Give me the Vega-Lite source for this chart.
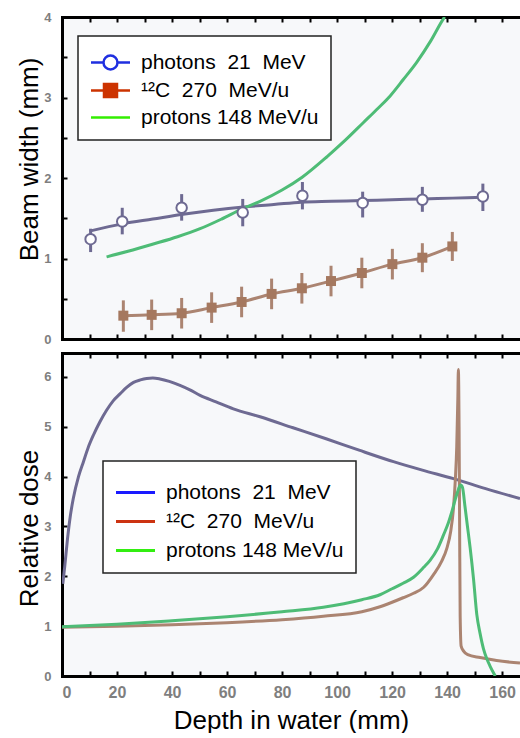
{
  "$schema": "https://vega.github.io/schema/vega-lite/v6.json",
  "background": "white",
  "padding": {"left": 16, "top": 11, "right": 0, "bottom": 0},
  "spacing": 6,
  "config": {
    "view": {"stroke": null, "fill": "#f7f8fa"},
    "font": "Liberation Sans",
    "axis": {
      "domainColor": "black", "domainWidth": 3, "domainCap": "square",
      "tickColor": "black", "tickWidth": 2, "tickSize": -5,
      "grid": false,
      "labelColor": "#7f7f7f", "labelFontWeight": "bold", "labelFont": "Liberation Sans",
      "titleFontWeight": "normal", "titleColor": "black", "titleFont": "Liberation Sans"
    }
  },
  "datasets": {
    "wfit": [
      {"series": "photons", "depth": 10, "width": 1.34},
      {"series": "photons", "depth": 22, "width": 1.43},
      {"series": "photons", "depth": 33, "width": 1.49},
      {"series": "photons", "depth": 44, "width": 1.55},
      {"series": "photons", "depth": 55, "width": 1.6},
      {"series": "photons", "depth": 66, "width": 1.64},
      {"series": "photons", "depth": 77, "width": 1.67},
      {"series": "photons", "depth": 87, "width": 1.7},
      {"series": "photons", "depth": 98, "width": 1.71},
      {"series": "photons", "depth": 109, "width": 1.72},
      {"series": "photons", "depth": 120, "width": 1.73},
      {"series": "photons", "depth": 131, "width": 1.74},
      {"series": "photons", "depth": 142, "width": 1.75},
      {"series": "photons", "depth": 153, "width": 1.76},
      {"series": "carbon", "depth": 22.3, "width": 0.29},
      {"series": "carbon", "depth": 32.6, "width": 0.30},
      {"series": "carbon", "depth": 43.5, "width": 0.32},
      {"series": "carbon", "depth": 54.4, "width": 0.39},
      {"series": "carbon", "depth": 65.3, "width": 0.46},
      {"series": "carbon", "depth": 76.2, "width": 0.56},
      {"series": "carbon", "depth": 87.2, "width": 0.63},
      {"series": "carbon", "depth": 97.8, "width": 0.72},
      {"series": "carbon", "depth": 109, "width": 0.82},
      {"series": "carbon", "depth": 120.1, "width": 0.93},
      {"series": "carbon", "depth": 131, "width": 1.01},
      {"series": "carbon", "depth": 141.9, "width": 1.15},
      {"series": "protons", "depth": 16.2, "width": 1.02},
      {"series": "protons", "depth": 24, "width": 1.09},
      {"series": "protons", "depth": 33.2, "width": 1.18},
      {"series": "protons", "depth": 42, "width": 1.27},
      {"series": "protons", "depth": 50.2, "width": 1.37},
      {"series": "protons", "depth": 58, "width": 1.49},
      {"series": "protons", "depth": 65.7, "width": 1.62},
      {"series": "protons", "depth": 72, "width": 1.71},
      {"series": "protons", "depth": 80, "width": 1.85},
      {"series": "protons", "depth": 87.3, "width": 2.01},
      {"series": "protons", "depth": 96.5, "width": 2.27},
      {"series": "protons", "depth": 103, "width": 2.47},
      {"series": "protons", "depth": 109.6, "width": 2.69},
      {"series": "protons", "depth": 115, "width": 2.87},
      {"series": "protons", "depth": 119.3, "width": 3.02},
      {"series": "protons", "depth": 124, "width": 3.22},
      {"series": "protons", "depth": 129, "width": 3.44},
      {"series": "protons", "depth": 134, "width": 3.70},
      {"series": "protons", "depth": 138.7, "width": 3.98},
      {"series": "protons", "depth": 139.1, "width": 4.0}
    ],
    "wpts": [
      {"series": "photons", "depth": 10.4, "width": 1.24, "lo": 1.08, "hi": 1.37},
      {"series": "photons", "depth": 21.9, "width": 1.46, "lo": 1.30, "hi": 1.63},
      {"series": "photons", "depth": 43.5, "width": 1.63, "lo": 1.47, "hi": 1.80},
      {"series": "photons", "depth": 65.7, "width": 1.57, "lo": 1.40, "hi": 1.74},
      {"series": "photons", "depth": 87.4, "width": 1.78, "lo": 1.61, "hi": 1.95},
      {"series": "photons", "depth": 109.3, "width": 1.69, "lo": 1.51, "hi": 1.83},
      {"series": "photons", "depth": 131, "width": 1.73, "lo": 1.58, "hi": 1.89},
      {"series": "photons", "depth": 153, "width": 1.77, "lo": 1.59, "hi": 1.93},
      {"series": "carbon", "depth": 22.3, "width": 0.29, "lo": 0.09, "hi": 0.48},
      {"series": "carbon", "depth": 32.6, "width": 0.30, "lo": 0.11, "hi": 0.49},
      {"series": "carbon", "depth": 43.5, "width": 0.32, "lo": 0.13, "hi": 0.51},
      {"series": "carbon", "depth": 54.4, "width": 0.39, "lo": 0.20, "hi": 0.58},
      {"series": "carbon", "depth": 65.3, "width": 0.46, "lo": 0.27, "hi": 0.65},
      {"series": "carbon", "depth": 76.2, "width": 0.56, "lo": 0.37, "hi": 0.75},
      {"series": "carbon", "depth": 87.2, "width": 0.63, "lo": 0.44, "hi": 0.82},
      {"series": "carbon", "depth": 97.8, "width": 0.72, "lo": 0.53, "hi": 0.91},
      {"series": "carbon", "depth": 109, "width": 0.82, "lo": 0.63, "hi": 1.01},
      {"series": "carbon", "depth": 120.1, "width": 0.93, "lo": 0.74, "hi": 1.12},
      {"series": "carbon", "depth": 131, "width": 1.01, "lo": 0.83, "hi": 1.19},
      {"series": "carbon", "depth": 141.9, "width": 1.15, "lo": 0.97, "hi": 1.33}
    ],
    "dose": [
      {"series": "photons", "depth": 0.3, "dose": 1.85},
      {"series": "photons", "depth": 1, "dose": 2.2},
      {"series": "photons", "depth": 2, "dose": 2.75},
      {"series": "photons", "depth": 3, "dose": 3.2},
      {"series": "photons", "depth": 4.1, "dose": 3.56},
      {"series": "photons", "depth": 6, "dose": 4.0},
      {"series": "photons", "depth": 7.8, "dose": 4.3},
      {"series": "photons", "depth": 9.5, "dose": 4.58},
      {"series": "photons", "depth": 11.4, "dose": 4.83},
      {"series": "photons", "depth": 13.8, "dose": 5.1},
      {"series": "photons", "depth": 16.2, "dose": 5.33},
      {"series": "photons", "depth": 18.6, "dose": 5.52},
      {"series": "photons", "depth": 21.1, "dose": 5.66},
      {"series": "photons", "depth": 23.5, "dose": 5.79},
      {"series": "photons", "depth": 26, "dose": 5.89},
      {"series": "photons", "depth": 28.5, "dose": 5.94},
      {"series": "photons", "depth": 30.8, "dose": 5.97},
      {"series": "photons", "depth": 33, "dose": 5.98},
      {"series": "photons", "depth": 35.6, "dose": 5.96},
      {"series": "photons", "depth": 39, "dose": 5.91},
      {"series": "photons", "depth": 42.9, "dose": 5.83},
      {"series": "photons", "depth": 46.5, "dose": 5.74},
      {"series": "photons", "depth": 50.2, "dose": 5.63},
      {"series": "photons", "depth": 56, "dose": 5.5},
      {"series": "photons", "depth": 62.3, "dose": 5.36},
      {"series": "photons", "depth": 72, "dose": 5.2},
      {"series": "photons", "depth": 84, "dose": 4.98},
      {"series": "photons", "depth": 96, "dose": 4.76},
      {"series": "photons", "depth": 108, "dose": 4.53},
      {"series": "photons", "depth": 120.5, "dose": 4.3},
      {"series": "photons", "depth": 131, "dose": 4.13},
      {"series": "photons", "depth": 142.3, "dose": 3.96},
      {"series": "photons", "depth": 154, "dose": 3.76},
      {"series": "photons", "depth": 166.5, "dose": 3.56},
      {"series": "carbon", "depth": 0, "dose": 0.98},
      {"series": "carbon", "depth": 20, "dose": 1.0},
      {"series": "carbon", "depth": 40, "dose": 1.03},
      {"series": "carbon", "depth": 60, "dose": 1.07},
      {"series": "carbon", "depth": 80, "dose": 1.13},
      {"series": "carbon", "depth": 95, "dose": 1.2},
      {"series": "carbon", "depth": 109, "dose": 1.29},
      {"series": "carbon", "depth": 115.6, "dose": 1.39},
      {"series": "carbon", "depth": 120, "dose": 1.48},
      {"series": "carbon", "depth": 124, "dose": 1.57},
      {"series": "carbon", "depth": 127.8, "dose": 1.66},
      {"series": "carbon", "depth": 131.5, "dose": 1.78},
      {"series": "carbon", "depth": 135, "dose": 2.03},
      {"series": "carbon", "depth": 138, "dose": 2.3},
      {"series": "carbon", "depth": 139.9, "dose": 2.56},
      {"series": "carbon", "depth": 141.3, "dose": 2.9},
      {"series": "carbon", "depth": 142.3, "dose": 3.36},
      {"series": "carbon", "depth": 143, "dose": 3.95},
      {"series": "carbon", "depth": 143.5, "dose": 4.6},
      {"series": "carbon", "depth": 143.9, "dose": 5.56},
      {"series": "carbon", "depth": 144.1, "dose": 6.15},
      {"series": "carbon", "depth": 144.35, "dose": 5.0},
      {"series": "carbon", "depth": 144.55, "dose": 3.0},
      {"series": "carbon", "depth": 144.75, "dose": 1.2},
      {"series": "carbon", "depth": 145.1, "dose": 0.6},
      {"series": "carbon", "depth": 146, "dose": 0.5},
      {"series": "carbon", "depth": 147.5, "dose": 0.43},
      {"series": "carbon", "depth": 152, "dose": 0.37},
      {"series": "carbon", "depth": 158, "dose": 0.31},
      {"series": "carbon", "depth": 166.5, "dose": 0.26},
      {"series": "protons", "depth": 0, "dose": 0.99},
      {"series": "protons", "depth": 20, "dose": 1.04},
      {"series": "protons", "depth": 40, "dose": 1.11},
      {"series": "protons", "depth": 60, "dose": 1.19},
      {"series": "protons", "depth": 80, "dose": 1.29},
      {"series": "protons", "depth": 95, "dose": 1.38},
      {"series": "protons", "depth": 109, "dose": 1.53},
      {"series": "protons", "depth": 115.6, "dose": 1.63},
      {"series": "protons", "depth": 120, "dose": 1.75},
      {"series": "protons", "depth": 124, "dose": 1.86},
      {"series": "protons", "depth": 127.8, "dose": 1.98},
      {"series": "protons", "depth": 131.5, "dose": 2.18},
      {"series": "protons", "depth": 133.8, "dose": 2.32},
      {"series": "protons", "depth": 136.5, "dose": 2.55},
      {"series": "protons", "depth": 138.7, "dose": 2.83},
      {"series": "protons", "depth": 140.5, "dose": 3.08},
      {"series": "protons", "depth": 141.7, "dose": 3.29},
      {"series": "protons", "depth": 143, "dose": 3.55},
      {"series": "protons", "depth": 143.8, "dose": 3.69},
      {"series": "protons", "depth": 144.5, "dose": 3.8},
      {"series": "protons", "depth": 145, "dose": 3.83},
      {"series": "protons", "depth": 145.6, "dose": 3.78},
      {"series": "protons", "depth": 146.5, "dose": 3.4},
      {"series": "protons", "depth": 147.4, "dose": 3.0},
      {"series": "protons", "depth": 148.4, "dose": 2.56},
      {"series": "protons", "depth": 149.6, "dose": 1.95},
      {"series": "protons", "depth": 150.8, "dose": 1.23},
      {"series": "protons", "depth": 152, "dose": 0.85},
      {"series": "protons", "depth": 153.2, "dose": 0.55},
      {"series": "protons", "depth": 154.4, "dose": 0.35},
      {"series": "protons", "depth": 155.6, "dose": 0.2},
      {"series": "protons", "depth": 157, "dose": 0.05},
      {"series": "protons", "depth": 157.5, "dose": 0}
    ]
  },
  "resolve": {"scale": {"color": "independent", "stroke": "independent"}, "legend": {"color": "independent"}},
  "vconcat": [
    {
      "width": 458,
      "height": 322,
      "resolve": {"axis": {"x": "independent"}},
      "layer": [
        {
          "data": {"name": "wfit"},
          "transform": [{"filter": "false"}],
          "mark": {"type": "line", "strokeWidth": 3},
          "encoding": {
            "x": {"field": "depth", "type": "quantitative", "axis": null},
            "y": {"field": "width", "type": "quantitative"},
            "color": {"field": "series", "type": "nominal",
                      "scale": {"domain": ["photons", "carbon", "protons"], "range": ["#1f2fe0", "#cc3300", "#33ee00"]},
                      "legend": {
                        "orient": "none", "legendX": 16, "legendY": 19,
                        "title": "\u00a0", "titleFontSize": 7, "titlePadding": -4,
                        "labelExpr": "datum.value == 'photons' ? 'photons\u00a0 21\u00a0 MeV' : datum.value == 'carbon' ? '\u00b9\u00b2C\u00a0 270\u00a0 MeV/u' : 'protons 148 MeV/u'",
                        "labelFontSize": 21, "labelColor": "black", "labelFont": "Liberation Sans", "labelLimit": 400,
                        "symbolSize": 400, "symbolStrokeWidth": 3, "symbolOffset": 9, "labelOffset": 19, "rowPadding": 4,
                        "padding": 12, "strokeColor": "#222222", "fillColor": "white",
                        "encode": {
                          "legend": {"update": {"strokeWidth": {"value": 1.5}}},
                          "symbols": {"update": {
                            "shape": {"signal": "datum.value == 'photons' ? 'M-1.95,0H-0.7M0.7,0H1.95M0.7,0A0.7,0.7,0,1,1,-0.7,0A0.7,0.7,0,1,1,0.7,0' : datum.value == 'carbon' ? 'M-1.95,0H1.95M-0.65,-0.65H0.65V0.65H-0.65Z' : 'M-1.95,0H1.95'"},
                            "fill": {"signal": "datum.value == 'photons' ? 'white' : datum.value == 'carbon' ? '#cc3300' : 'transparent'"},
                            "strokeWidth": {"value": 2.5},
                            "opacity": {"value": 1},
                            "fillOpacity": {"value": 1},
                            "strokeOpacity": {"value": 1}
                          }}
                        }
                      }}
          }
        },
        {
          "data": {"name": "wfit"},
          "mark": {"type": "line", "strokeWidth": 3, "interpolate": "monotone", "clip": true},
          "encoding": {
            "x": {"field": "depth", "type": "quantitative",
                  "scale": {"domain": [0, 166.5], "nice": false, "zero": false},
                  "axis": {"orient": "bottom", "values": [0,10,20,30,40,50,60,70,80,90,100,110,120,130,140,150,160], "labels": false, "title": null}},
            "y": {"field": "width", "type": "quantitative",
                  "scale": {"domain": [0, 4], "nice": false},
                  "axis": {"values": [0,0.5,1,1.5,2,2.5,3,3.5,4], "labelExpr": "datum.value % 1 == 0 ? format(datum.value, 'd') : ''",
                           "labelFontSize": 13, "labelPadding": 16,
                           "title": "Beam width (mm)", "titleFontSize": 26, "titleX": -33, "titleY": 142, "titleBaseline": "middle", "titleAngle": -90}},
            "stroke": {"field": "series", "type": "nominal",
                      "scale": {"domain": ["photons", "carbon", "protons"], "range": ["#6e6a92", "#ab8471", "#4ebc76"]},
                      "legend": null}
          }
        },
        {
          "data": {"name": "wpts"},
          "mark": {"type": "rule", "strokeWidth": 3},
          "encoding": {
            "x": {"field": "depth", "type": "quantitative",
                  "axis": {"orient": "top", "values": [0,10,20,30,40,50,60,70,80,90,100,110,120,130,140,150,160], "labels": false, "title": null}},
            "y": {"field": "lo", "type": "quantitative"},
            "y2": {"field": "hi"},
            "stroke": {"field": "series", "type": "nominal", "legend": null}
          }
        },
        {
          "data": {"name": "wpts"},
          "transform": [{"filter": "datum.series == 'photons'"}],
          "mark": {"type": "point", "shape": "circle", "filled": true, "fill": "white", "stroke": "#6e6a92", "strokeWidth": 2, "size": 110, "opacity": 1},
          "encoding": {
            "x": {"field": "depth", "type": "quantitative", "axis": null},
            "y": {"field": "width", "type": "quantitative"}
          }
        },
        {
          "data": {"name": "wpts"},
          "transform": [{"filter": "datum.series == 'carbon'"}],
          "mark": {"type": "point", "shape": "square", "filled": true, "color": "#a5785f", "size": 100, "opacity": 1},
          "encoding": {
            "x": {"field": "depth", "type": "quantitative", "axis": null},
            "y": {"field": "width", "type": "quantitative"}
          }
        }
      ]
    },
    {
      "width": 458,
      "height": 323,
      "resolve": {"axis": {"x": "independent"}},
      "layer": [
        {
          "data": {"name": "dose"},
          "transform": [{"filter": "false"}],
          "mark": {"type": "line", "strokeWidth": 3},
          "encoding": {
            "x": {"field": "depth", "type": "quantitative", "axis": null},
            "y": {"field": "dose", "type": "quantitative"},
            "color": {"field": "series", "type": "nominal",
                      "scale": {"domain": ["photons", "carbon", "protons"], "range": ["#1a1aff", "#cc3311", "#33ee11"]},
                      "legend": {
                        "orient": "none", "legendX": 41, "legendY": 108,
                        "title": "\u00a0", "titleFontSize": 8, "titlePadding": 0,
                        "labelExpr": "datum.value == 'photons' ? 'photons\u00a0 21\u00a0 MeV' : datum.value == 'carbon' ? '\u00b9\u00b2C\u00a0 270\u00a0 MeV/u' : 'protons 148 MeV/u'",
                        "labelFontSize": 21, "labelColor": "black", "labelFont": "Liberation Sans", "labelLimit": 400,
                        "symbolSize": 400, "symbolStrokeWidth": 3, "symbolOffset": 9, "labelOffset": 19, "rowPadding": 7,
                        "padding": 12, "strokeColor": "#222222", "fillColor": "white",
                        "encode": {
                          "legend": {"update": {"strokeWidth": {"value": 1.5}}},
                          "symbols": {"update": {
                            "shape": {"value": "M-1.95,0H1.95"},
                            "fill": {"value": "transparent"},
                            "strokeWidth": {"value": 3},
                            "opacity": {"value": 1},
                            "strokeOpacity": {"value": 1}
                          }}
                        }
                      }}
          }
        },
        {
          "data": {"name": "dose"},
          "transform": [{"filter": "datum.series != 'protons'"}],
          "mark": {"type": "line", "strokeWidth": 3, "interpolate": "monotone", "clip": true},
          "encoding": {
            "x": {"field": "depth", "type": "quantitative",
                  "scale": {"domain": [0, 166.5], "nice": false, "zero": false},
                  "axis": {"orient": "bottom", "values": [0,10,20,30,40,50,60,70,80,90,100,110,120,130,140,150,160],
                           "labelExpr": "datum.value % 20 == 0 ? datum.label : ''",
                           "labelFontSize": 16, "labelPadding": 13,
                           "title": "Depth in water (mm)", "titleFontSize": 26, "titleY": 52, "titleBaseline": "alphabetic"}},
            "y": {"field": "dose", "type": "quantitative",
                  "scale": {"domain": [0, 6.48], "nice": false},
                  "axis": {"values": [0,0.5,1,1.5,2,2.5,3,3.5,4,4.5,5,5.5,6], "labelExpr": "datum.value % 1 == 0 ? format(datum.value, 'd') : ''",
                           "labelFontSize": 13, "labelPadding": 16,
                           "title": "Relative dose", "titleFontSize": 26, "titleX": -33, "titleY": 175, "titleBaseline": "middle", "titleAngle": -90}},
            "stroke": {"field": "series", "type": "nominal",
                      "scale": {"domain": ["photons", "carbon", "protons"], "range": ["#6e6a92", "#ab8471", "#4ebc76"]},
                      "legend": null}
          }
        },
        {
          "data": {"name": "dose"},
          "transform": [{"filter": "datum.series == 'protons'"}],
          "mark": {"type": "line", "strokeWidth": 3, "interpolate": "monotone", "clip": true},
          "encoding": {
            "x": {"field": "depth", "type": "quantitative",
                  "axis": {"orient": "top", "values": [0,10,20,30,40,50,60,70,80,90,100,110,120,130,140,150,160], "labels": false, "title": null}},
            "y": {"field": "dose", "type": "quantitative"},
            "stroke": {"field": "series", "type": "nominal", "legend": null}
          }
        }
      ]
    }
  ]
}
